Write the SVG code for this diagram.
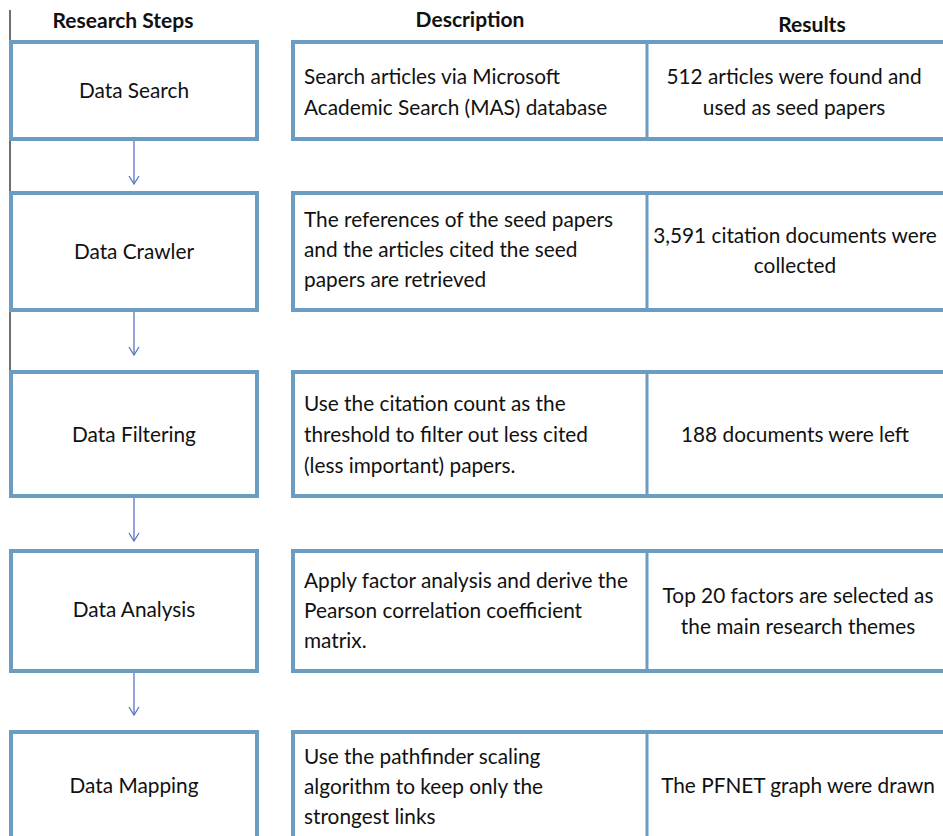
<svg xmlns="http://www.w3.org/2000/svg" width="943" height="836" viewBox="0 0 943 836">
<defs>
<style>
.box{fill:#ffffff;stroke:#6b9dc2;stroke-width:4}
.div{stroke:#6b9dc2;stroke-width:3;fill:none}
.t{font-family:Lato,"Open Sans",sans-serif;font-size:20.8px;fill:#111}
.c{text-anchor:middle}
.h{font-family:Lato,"Open Sans",sans-serif;font-size:21px;font-weight:bold;fill:#111;text-anchor:middle}
.arr{stroke:#5a74c4;stroke-width:1.3;fill:none}
</style>
<marker id="ah" viewBox="0 0 12 12" refX="11" refY="6" markerWidth="12" markerHeight="12" markerUnits="userSpaceOnUse" orient="auto">
<path d="M3,1 L11,6 L3,11" fill="none" stroke="#5a74c4" stroke-width="1.3"/>
</marker>
</defs>
<rect width="943" height="836" fill="#ffffff"/>
<line x1="10" y1="10" x2="10" y2="428" stroke="#222" stroke-width="1.3"/>
<g id="headers">
<text class="h" x="123" y="28">Research Steps</text>
<text class="h" x="470" y="27">Description</text>
<text class="h" x="812" y="32">Results</text>
</g>
<g id="connectors">
<line class="arr" x1="134" y1="141" x2="134" y2="184" marker-end="url(#ah)"/>
<line class="arr" x1="134" y1="312" x2="134" y2="355" marker-end="url(#ah)"/>
<line class="arr" x1="134" y1="498" x2="134" y2="541" marker-end="url(#ah)"/>
<line class="arr" x1="134" y1="673" x2="134" y2="715" marker-end="url(#ah)"/>
</g>
<g id="step1">
<rect class="box" x="11" y="42" width="246" height="97"/>
<text class="t c" x="134" y="98">Data Search</text>
</g>
<g id="row1">
<rect class="box" x="293" y="42" width="660" height="97"/>
<line class="div" x1="647" y1="42" x2="647" y2="139"/>
<text class="t" x="304" y="84">Search articles via Microsoft</text>
<text class="t" x="304" y="115">Academic Search (MAS) database</text>
<text class="t c" x="794" y="84">512 articles were found and</text>
<text class="t c" x="794" y="115">used as seed papers</text>
</g>
<g id="step2">
<rect class="box" x="11" y="193" width="246" height="117"/>
<text class="t c" x="134" y="259">Data Crawler</text>
</g>
<g id="row2">
<rect class="box" x="293" y="193" width="660" height="117"/>
<line class="div" x1="647" y1="193" x2="647" y2="310"/>
<text class="t" x="304" y="227">The references of the seed papers</text>
<text class="t" x="304" y="257">and the articles cited the seed</text>
<text class="t" x="304" y="287">papers are retrieved</text>
<text class="t c" x="795" y="243">3,591 citation documents were</text>
<text class="t c" x="795" y="273">collected</text>
</g>
<g id="step3">
<rect class="box" x="11" y="372" width="246" height="124"/>
<text class="t c" x="134" y="442">Data Filtering</text>
</g>
<g id="row3">
<rect class="box" x="293" y="372" width="660" height="124"/>
<line class="div" x1="647" y1="372" x2="647" y2="496"/>
<text class="t" x="304" y="411">Use the citation count as the</text>
<text class="t" x="304" y="442">threshold to filter out less cited</text>
<text class="t" x="304" y="473">(less important) papers.</text>
<text class="t c" x="795" y="442">188 documents were left</text>
</g>
<g id="step4">
<rect class="box" x="11" y="551" width="246" height="120"/>
<text class="t c" x="134" y="617">Data Analysis</text>
</g>
<g id="row4">
<rect class="box" x="293" y="551" width="660" height="120"/>
<line class="div" x1="647" y1="551" x2="647" y2="671"/>
<text class="t" x="304" y="588">Apply factor analysis and derive the</text>
<text class="t" x="304" y="618">Pearson correlation coefficient</text>
<text class="t" x="304" y="648">matrix.</text>
<text class="t c" x="798" y="603">Top 20 factors are selected as</text>
<text class="t c" x="798" y="634">the main research themes</text>
</g>
<g id="step5">
<rect class="box" x="11" y="732" width="246" height="130"/>
<text class="t c" x="134" y="793">Data Mapping</text>
</g>
<g id="row5">
<rect class="box" x="293" y="732" width="660" height="130"/>
<line class="div" x1="647" y1="732" x2="647" y2="862"/>
<text class="t" x="304" y="764">Use the pathfinder scaling</text>
<text class="t" x="304" y="794">algorithm to keep only the</text>
<text class="t" x="304" y="824">strongest links</text>
<text class="t c" x="798" y="793">The PFNET graph were drawn</text>
</g>
</svg>
